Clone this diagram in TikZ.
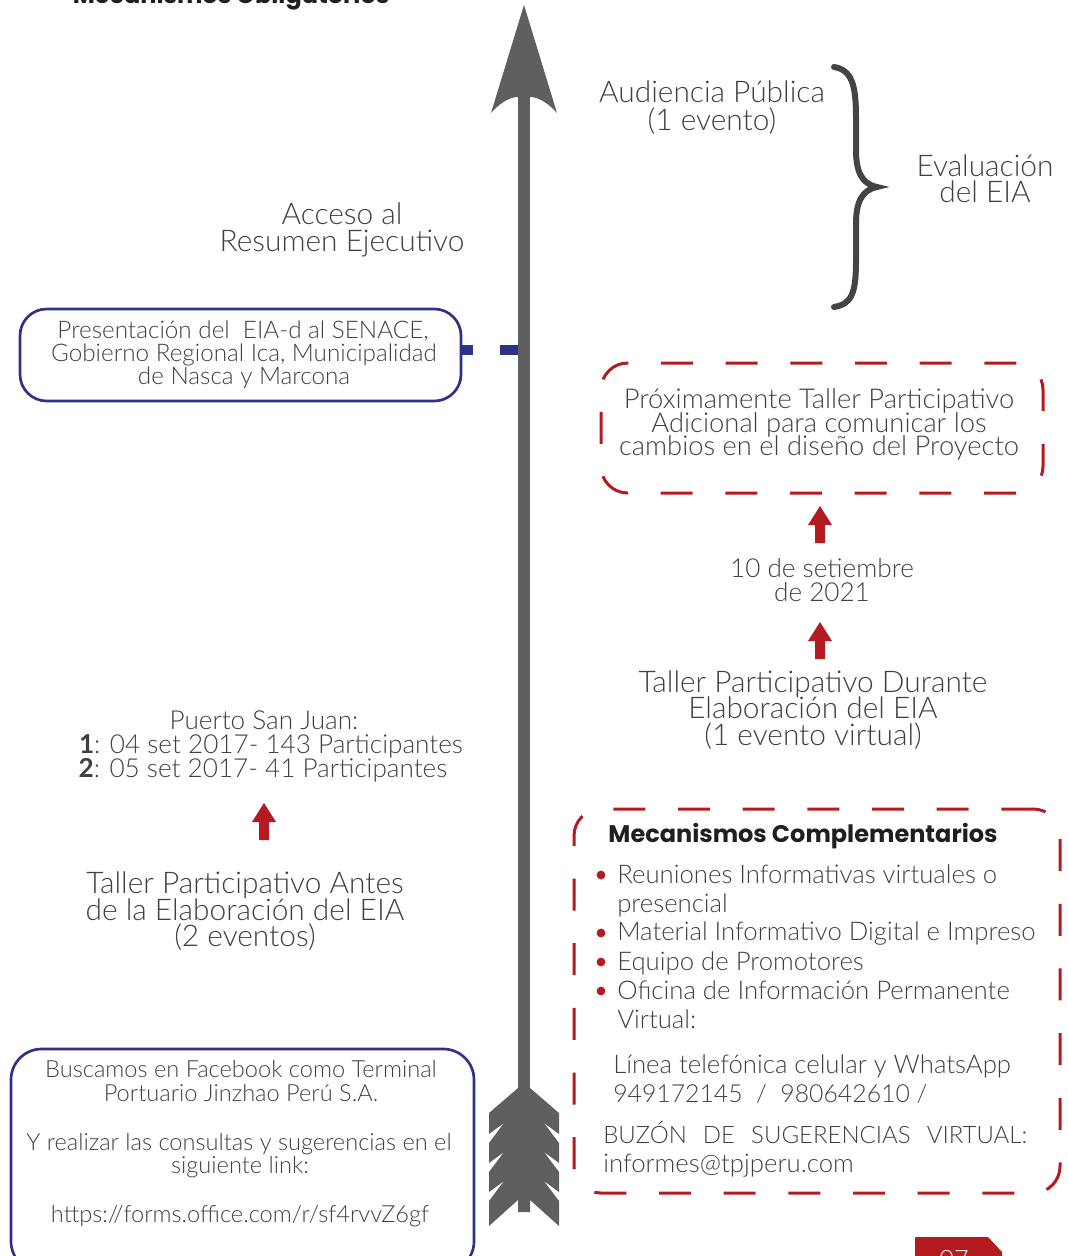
\documentclass[tikz,border=0pt]{standalone}
\usepackage{fontspec}
\setmainfont{Lato}[UprightFont=* Light, BoldFont=* Bold]
\newfontfamily\hfont{Poppins}
\usetikzlibrary{fit}
\definecolor{txt}{HTML}{404040}
\definecolor{arrowgray}{HTML}{5F5F5F}
\definecolor{bluec}{HTML}{2E3187}
\definecolor{redc}{HTML}{B31B21}
\definecolor{bracec}{HTML}{444444}
\begin{document}
\begin{tikzpicture}[x=0.75pt,y=-0.75pt,
  t/.style={text=txt, inner sep=0pt, anchor=base},
  big/.style={t, font=\fontsize{22.4}{24}\selectfont},
  med/.style={t, font=\fontsize{18.2}{20}\selectfont},
  mid/.style={t, font=\fontsize{19.6}{22}\selectfont},
  sml/.style={t, font=\fontsize{17.7}{20}\selectfont},
  lst/.style={t, anchor=base west, font=\fontsize{19.3}{22}\selectfont},
  head/.style={t, text=black!88, font=\hfont\bfseries\fontsize{18}{20}\selectfont},
  bluebox/.style={draw=bluec, line width=2pt, rounded corners=20pt, inner sep=0pt},
  redbox/.style={draw=redc, line width=2.25pt, rounded corners=20pt, inner sep=0pt, dash pattern=on 24pt off 24.5pt},
  redup/.pic={\fill[redc] (0,0) -- (12,19) -- (5,19) -- (5,37) -- (-5,37) -- (-5,19) -- (-12,19) -- cycle;}
]
\useasboundingbox (0,0) rectangle (1067,1256);
\clip (0,0) rectangle (1067,1256);

% ---------- main arrow ----------
\fill[arrowgray] (518,97) rectangle (530,1212);
\fill[arrowgray] (524,5) -- (557,113) .. controls (549,104) and (539,97) .. (530,97)
  -- (518,97) .. controls (509,97) and (499,104) .. (491,113) -- cycle;
\fill[arrowgray] (518,1088) -- (489,1113) -- (489,1134) -- (504,1123) -- (489,1143)
  -- (489,1163) -- (504,1152) -- (489,1172) -- (489,1192) -- (504,1181) -- (489,1201)
  -- (489,1226) -- (518,1200) -- (518,1212) -- (530,1212) -- (530,1200) -- (559,1226)
  -- (559,1201) -- (544,1181) -- (559,1192) -- (559,1172) -- (544,1152) -- (559,1163)
  -- (559,1143) -- (544,1123) -- (559,1134) -- (559,1113) -- (530,1088) -- cycle;
\coordinate (shaftL) at (518,350);

% ---------- title ----------
\node[head] (title) at (231,4) {Mecanismos Obligatorios};

% ---------- right upper ----------
\node[big] (aud1) at (712,103) {Audiencia Pública};
\node[big] (aud2) at (712,130) {(1 evento)};
\draw[bracec, line width=4.5pt, line cap=round]
  (834,67) .. controls (852,70) and (856,85) .. (856,118) -- (856,150)
  .. controls (856,172) and (862,184) .. (877,187)
  .. controls (862,190) and (856,202) .. (856,224) -- (856,260)
  .. controls (856,293) and (852,304) .. (834,307);
\node[big] (ev1) at (985,176) {Evaluación};
\node[big] (ev2) at (985,202) {del EIA};

% ---------- left upper ----------
\node[big] (acc1) at (342,224) {Acceso al};
\node[big] (acc2) at (342,251) {Resumen Ejecutivo};

\node[bluebox, fit={(20,309) (461,401)}] (pres) {};
\node[med] (p1) at (243,338) {Presentación del\ \ EIA-d al SENACE,};
\node[med] (p2) at (244,361) {Gobierno Regional Ica, Municipalidad};
\node[med] (p3) at (244,384) {de Nasca y Marcona};
\draw[bluec, line width=7.5pt, dash pattern=on 8.25pt off 20.25pt on 14.25pt off 200pt] (pres.east |- shaftL) -- (shaftL);

% ---------- right middle ----------
\node[redbox, fit={(601,363) (1043,493)}] (prox) {};
\node[mid, font=\fontsize{20.5}{22}\selectfont] (x1) at (819,408) {Próximamente Taller Participativo};
\node[mid, font=\fontsize{20.5}{22}\selectfont] (x2) at (819,432) {Adicional para comunicar los};
\node[mid, font=\fontsize{20.5}{22}\selectfont] (x3) at (819,455) {cambios en el diseño del Proyecto};

\pic at (820,506) {redup};
\node[mid] (d1) at (822,577) {10 de setiembre};
\node[mid] (d2) at (822,601) {de 2021};
\pic at (820,622) {redup};

\node[big] (td1) at (813,692) {Taller Participativo Durante};
\node[big] (td2) at (813,718) {Elaboración del EIA};
\node[big] (td3) at (813,745) {(1 evento virtual)};

% ---------- left middle ----------
\node[mid] (ps1) at (264,729) {Puerto San Juan:};
\node[mid] (ps2) at (271,753) {\textbf{1}: 04 set 2017- 143 Participantes};
\node[mid] (ps3) at (263,777) {\textbf{2}: 05 set 2017- 41 Participantes};
\pic at (264,803) {redup};
\node[big] (ta1) at (245,893) {Taller Participativo Antes};
\node[big] (ta2) at (245,920) {de la Elaboración del EIA};
\node[big] (ta3) at (245,946) {(2 eventos)};

% ---------- complementary box ----------
\node[redbox, fit={(574,809) (1060,1193)}] (comp) {};
\node[head] (ch) at (803,842) {Mecanismos Complementarios};
\foreach \yy in {875,933,962,991} {\fill[redc] (601,\yy) circle (3.3pt);}
\node[lst] (b1) at (617,883) {Reuniones Informativas virtuales o};
\node[lst] (b1b) at (617,912) {presencial};
\node[lst] (b2) at (617,940) {Material Informativo Digital e Impreso};
\node[lst] (b3) at (617,970) {Equipo de Promotores};
\node[lst] (b4) at (617,999) {Oficina de Información Permanente};
\node[lst] (b4b) at (617,1028) {Virtual:};
\node[lst] (l1) at (613,1073) {Línea telefónica celular y WhatsApp};
\node[lst, font=\fontsize{18.6}{22}\selectfont] (l2) at (613,1102) {949172145\ \ /\ \ 980642610 /};
\node[lst, font=\fontsize{18}{22}\selectfont] (l3) at (603,1143) {\makebox[318pt][s]{BUZÓN DE SUGERENCIAS VIRTUAL:}};
\node[lst] (l4) at (603,1172) {informes@tpjperu.com};

% ---------- bottom-left box ----------
\node[bluebox, rounded corners=23pt, fit={(11,1049) (474,1272)}] (fb) {};
\node[sml] (f1) at (241,1077) {Buscamos en Facebook como Terminal};
\node[sml] (f2) at (241,1101) {Portuario Jinzhao Perú S.A.};
\node[sml] (f3) at (239,1150) {Y realizar las consultas y sugerencias en el};
\node[sml] (f4) at (240,1173) {siguiente link:};
\node[sml] (f5) at (240,1222) {https://forms.office.com/r/sf4rvvZ6gf};

% ---------- page tab ----------
\fill[redc] (915,1237) -- (988,1237) -- (1002,1252) -- (1002,1280) -- (915,1280) -- cycle;
\node[t, text=white, font=\fontsize{19}{20}\selectfont] (pg) at (954,1268) {07};
\end{tikzpicture}
\end{document}
